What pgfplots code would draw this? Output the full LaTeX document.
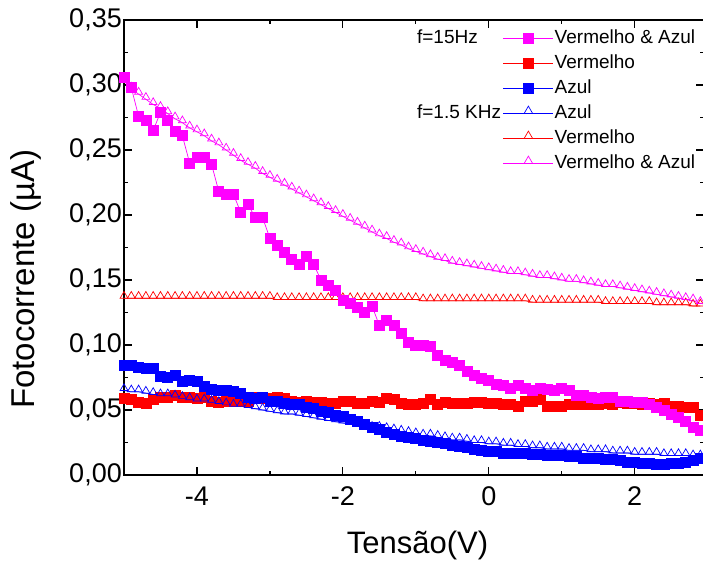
\documentclass[border=0pt]{standalone}
\usepackage{fontspec}
\setmainfont{Liberation Sans}
\usepackage{pgfplots}
\usepackage{pgfplotstable}
\pgfplotsset{compat=1.18}
\definecolor{mag}{RGB}{255,0,255}
\definecolor{rd}{RGB}{255,0,0}
\definecolor{bl}{RGB}{0,0,255}

\pgfplotstableread{
x ms rs bs bt rt mt
-5.0 0.306 0.059 0.084 0.065 0.136 0.303
-4.9 0.298 0.058 0.084 0.064 0.136 0.297
-4.8 0.276 0.056 0.083 0.064 0.136 0.293
-4.7 0.273 0.055 0.082 0.063 0.136 0.289
-4.6 0.265 0.058 0.082 0.062 0.136 0.285
-4.5 0.279 0.060 0.076 0.061 0.136 0.282
-4.4 0.273 0.060 0.075 0.061 0.136 0.278
-4.3 0.264 0.061 0.077 0.060 0.136 0.274
-4.2 0.261 0.060 0.072 0.059 0.136 0.271
-4.1 0.240 0.060 0.073 0.058 0.136 0.267
-4.0 0.244 0.059 0.072 0.057 0.136 0.264
-3.9 0.244 0.060 0.068 0.057 0.136 0.261
-3.8 0.239 0.057 0.066 0.056 0.136 0.257
-3.7 0.218 0.056 0.065 0.055 0.136 0.254
-3.6 0.216 0.057 0.065 0.054 0.136 0.250
-3.5 0.216 0.057 0.064 0.053 0.136 0.246
-3.4 0.202 0.057 0.063 0.053 0.136 0.242
-3.3 0.208 0.057 0.060 0.052 0.136 0.239
-3.2 0.198 0.060 0.059 0.051 0.136 0.236
-3.1 0.198 0.059 0.060 0.050 0.136 0.232
-3.0 0.182 0.059 0.057 0.049 0.136 0.229
-2.9 0.177 0.060 0.057 0.048 0.135 0.226
-2.8 0.171 0.059 0.055 0.047 0.135 0.223
-2.7 0.166 0.057 0.054 0.047 0.135 0.220
-2.6 0.162 0.056 0.054 0.046 0.135 0.217
-2.5 0.168 0.057 0.052 0.045 0.135 0.214
-2.4 0.162 0.056 0.051 0.044 0.135 0.211
-2.3 0.150 0.056 0.049 0.043 0.135 0.208
-2.2 0.146 0.055 0.048 0.042 0.135 0.205
-2.1 0.142 0.055 0.046 0.041 0.135 0.202
-2.0 0.134 0.057 0.045 0.040 0.135 0.199
-1.9 0.132 0.057 0.043 0.039 0.135 0.196
-1.8 0.129 0.055 0.041 0.038 0.135 0.193
-1.7 0.125 0.055 0.039 0.037 0.135 0.190
-1.6 0.130 0.057 0.037 0.036 0.135 0.187
-1.5 0.115 0.056 0.035 0.036 0.135 0.184
-1.4 0.119 0.059 0.033 0.035 0.135 0.182
-1.3 0.115 0.058 0.031 0.034 0.135 0.179
-1.2 0.109 0.055 0.030 0.033 0.135 0.177
-1.1 0.102 0.054 0.029 0.032 0.135 0.174
-1.0 0.100 0.054 0.028 0.031 0.135 0.172
-0.9 0.100 0.055 0.027 0.030 0.134 0.170
-0.8 0.099 0.058 0.026 0.030 0.134 0.168
-0.7 0.092 0.054 0.025 0.029 0.134 0.166
-0.6 0.088 0.056 0.024 0.028 0.134 0.165
-0.5 0.087 0.055 0.023 0.027 0.134 0.163
-0.4 0.084 0.055 0.022 0.027 0.134 0.162
-0.3 0.080 0.055 0.021 0.026 0.134 0.161
-0.2 0.077 0.056 0.020 0.025 0.134 0.160
-0.1 0.074 0.056 0.019 0.025 0.134 0.159
0.0 0.073 0.055 0.018 0.024 0.134 0.158
0.1 0.070 0.055 0.018 0.024 0.134 0.157
0.2 0.069 0.054 0.017 0.023 0.134 0.156
0.3 0.067 0.054 0.017 0.023 0.134 0.155
0.4 0.069 0.053 0.017 0.022 0.134 0.155
0.5 0.067 0.057 0.017 0.022 0.134 0.154
0.6 0.065 0.057 0.016 0.021 0.133 0.153
0.7 0.067 0.058 0.016 0.021 0.133 0.152
0.8 0.066 0.053 0.015 0.020 0.133 0.152
0.9 0.065 0.053 0.015 0.020 0.133 0.151
1.0 0.067 0.053 0.015 0.020 0.133 0.150
1.1 0.065 0.054 0.014 0.019 0.133 0.149
1.2 0.061 0.054 0.014 0.019 0.133 0.149
1.3 0.061 0.054 0.013 0.019 0.133 0.148
1.4 0.060 0.054 0.013 0.018 0.133 0.147
1.5 0.059 0.054 0.013 0.018 0.133 0.146
1.6 0.060 0.055 0.012 0.018 0.132 0.145
1.7 0.060 0.054 0.012 0.017 0.132 0.145
1.8 0.057 0.056 0.011 0.017 0.132 0.144
1.9 0.057 0.055 0.010 0.017 0.132 0.143
2.0 0.056 0.055 0.010 0.016 0.132 0.142
2.1 0.056 0.054 0.009 0.016 0.132 0.141
2.2 0.054 0.055 0.009 0.016 0.132 0.140
2.3 0.052 0.054 0.008 0.016 0.131 0.139
2.4 0.050 0.055 0.008 0.015 0.131 0.138
2.5 0.047 0.053 0.009 0.015 0.131 0.137
2.6 0.044 0.053 0.009 0.015 0.131 0.136
2.7 0.041 0.052 0.010 0.015 0.131 0.135
2.8 0.037 0.052 0.011 0.014 0.130 0.134
2.9 0.034 0.046 0.013 0.014 0.130 0.132
}\data

\begin{document}
\begin{tikzpicture}
\path[use as bounding box] (-124pt,-90pt) rectangle (579pt,475pt);
\begin{axis}[
  at={(0pt,0pt)}, anchor=south west,
  scale only axis, width=580pt, height=455pt,
  xmin=-5, xmax=2.95, ymin=0, ymax=0.35,
  xtick={-4,-2,0,2}, minor x tick num=1,
  ytick={0,0.05,...,0.351}, minor y tick num=1,
  tick align=inside,
  major tick length=8pt, minor tick length=4pt,
  every tick/.style={black, line width=1.2pt},
  axis line style={line width=1.5pt},
  /pgf/number format/assume math mode=true,
  tick label style={font=\fontsize{27}{31}\selectfont},
  yticklabel style={inner sep=2pt, /pgf/number format/.cd, fixed, fixed zerofill, precision=2, use comma},
  xticklabel style={yshift=-8pt},
  xlabel={Tensão(V)},
  ylabel={Fotocorrente (µA)},
  xlabel style={font=\fontsize{31}{36}\selectfont, at={(axis description cs:0.506,0)}, anchor=center, yshift=-70pt},
  ylabel style={font=\fontsize{33}{38}\selectfont, at={(axis description cs:-0.169,0.43)}, anchor=center},
  legend cell align=left,
  legend image code/.code={\draw[mark repeat=2,mark phase=2,#1] plot coordinates {(0pt,0pt) (25pt,0pt) (50pt,0pt)};},
  legend style={at={(axis description cs:0.648,0.987)}, anchor=north west, draw=none, fill=none,
    font=\fontsize{19}{22}\selectfont, row sep=5pt,
    nodes={inner sep=1pt, text height=14pt, text depth=4pt}},
]
% z-order of drawing
\addplot[forget plot, rd, line width=0.7pt, mark=triangle, mark size=4.5pt, mark options={yshift=2.2pt, line width=0.7pt}] table[x=x,y=rt]{\data};
\addplot[forget plot, mag, line width=0.7pt, mark=triangle, mark size=4.5pt, mark options={yshift=2.2pt, line width=0.7pt}] table[x=x,y=mt]{\data};
\addplot[forget plot, rd, line width=0.7pt, mark=square*, mark size=5pt] table[x=x,y=rs]{\data};
\addplot[forget plot, bl, line width=0.7pt, mark=square*, mark size=5pt] table[x=x,y=bs]{\data};
\addplot[forget plot, bl, line width=0.7pt, mark=triangle, mark size=4.5pt, mark options={yshift=2.2pt, line width=0.7pt}] table[x=x,y=bt]{\data};
\addplot[forget plot, mag, line width=0.7pt, mark=square*, mark size=5pt] table[x=x,y=ms]{\data};
% legend
\addlegendimage{mag, line width=0.7pt, mark=square*, mark size=5pt}
\addlegendentry{Vermelho \& Azul}
\addlegendimage{rd, line width=0.7pt, mark=square*, mark size=5pt}
\addlegendentry{Vermelho}
\addlegendimage{bl, line width=0.7pt, mark=square*, mark size=5pt}
\addlegendentry{Azul}
\addlegendimage{bl, line width=0.7pt, mark=triangle, mark size=5pt, mark options={yshift=2pt}}
\addlegendentry{Azul}
\addlegendimage{rd, line width=0.7pt, mark=triangle, mark size=5pt, mark options={yshift=2pt}}
\addlegendentry{Vermelho}
\addlegendimage{mag, line width=0.7pt, mark=triangle, mark size=5pt, mark options={yshift=2pt}}
\addlegendentry{Vermelho \& Azul}
\node[anchor=west, font=\fontsize{19}{22}\selectfont, inner sep=0pt] at (axis description cs:0.505,0.963) {f=15Hz};
\node[anchor=west, font=\fontsize{19}{22}\selectfont, inner sep=0pt] at (axis description cs:0.505,0.798) {f=1.5 KHz};
\end{axis}
\end{tikzpicture}
\end{document}
